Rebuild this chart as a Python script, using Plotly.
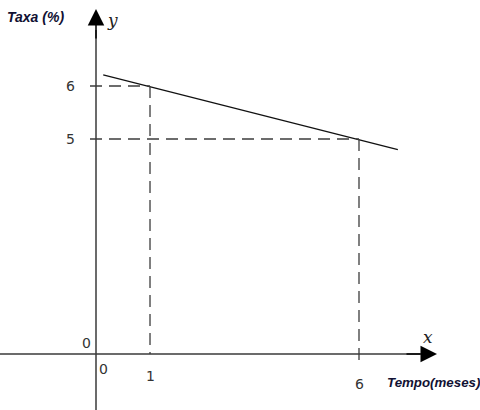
import plotly.graph_objects as go

# --- data (schematic chart) ---
months = [1, 6]            # Tempo (meses)
rates = [6, 5]             # Taxa (%)
line_x = [-0.12, 6.93]     # ends of the drawn line
line_y = [6.21, 4.80]
x_tick_vals = [1, 6]
x_tick_text = ["1", "6"]
y_tick_vals = [6, 5]
y_tick_text = ["6", "5"]

W, H = 480, 410
X_RANGE = [-2.589, 8.895]
Y_RANGE = [-0.113, 7.623]


def px(pix):
    return X_RANGE[0] + pix * (X_RANGE[1] - X_RANGE[0]) / W


def py(pix):
    return Y_RANGE[1] - pix * (Y_RANGE[1] - Y_RANGE[0]) / H


# axis cross point of the schematic drawing (not to scale)
origin_x = px(96)
origin_y = py(354)

AX_COL = "#3a3a3a"
DASH_COL = "#3c3c3c"
TXT_COL = "#333333"
DASH = dict(color=DASH_COL, width=1.3, dash="12px,7px")

fig = go.Figure()
fig.add_trace(go.Scatter(x=line_x, y=line_y, mode="lines",
                         line=dict(color="#111111", width=1.2),
                         hoverinfo="skip", showlegend=False))

shapes = []
for mx, ry in zip(months, rates):
    shapes.append(dict(type="line", xref="x", yref="y", x0=px(90), x1=mx, y0=ry, y1=ry, line=DASH))
shapes.append(dict(type="line", xref="x", yref="y", x0=months[0], x1=months[0],
                   y0=rates[0], y1=origin_y, line=DASH))
shapes.append(dict(type="line", xref="x", yref="y", x0=months[1], x1=months[1],
                   y0=rates[1], y1=py(366), line=DASH))
shapes.append(dict(type="line", xref="x", yref="y", x0=origin_x, x1=origin_x,
                   y0=py(412), y1=py(30), line=dict(color=AX_COL, width=1.5)))
shapes.append(dict(type="line", xref="x", yref="y", x0=px(-2), x1=px(420),
                   y0=origin_y, y1=origin_y, line=dict(color=AX_COL, width=1.5)))

annotations = []
annotations.append(dict(x=origin_x, y=py(9), ax=origin_x, ay=py(40), xref="x", yref="y",
                        axref="x", ayref="y", showarrow=True, arrowhead=2, arrowsize=2.2,
                        arrowwidth=1.5, arrowcolor="#000000", text=""))
annotations.append(dict(x=px(437), y=origin_y, ax=px(405), ay=origin_y, xref="x", yref="y",
                        axref="x", ayref="y", showarrow=True, arrowhead=2, arrowsize=2.2,
                        arrowwidth=1.5, arrowcolor="#000000", text=""))

tick_font = dict(family="DejaVu Sans", size=14, color=TXT_COL)
for v, t in zip(y_tick_vals, y_tick_text):
    annotations.append(dict(x=px(70), y=v, xref="x", yref="y", text=t, showarrow=False,
                            font=tick_font))
x_label_pix_y = [376, 384]
for v, t, lp in zip(x_tick_vals, x_tick_text, x_label_pix_y):
    annotations.append(dict(x=v, y=py(lp), xref="x", yref="y", text=t,
                            showarrow=False, font=tick_font))

annotations += [
    dict(x=px(86), y=py(343), xref="x", yref="y", text="0", showarrow=False, font=tick_font),
    dict(x=px(103), y=py(369), xref="x", yref="y", text="0", showarrow=False, font=tick_font),
    dict(x=px(112), y=py(20), xref="x", yref="y", text="y", showarrow=False,
         font=dict(family="DejaVu Serif", size=17, color="#222222", style="italic")),
    dict(x=px(428), y=py(337), xref="x", yref="y", text="x", showarrow=False,
         font=dict(family="DejaVu Serif", size=17, color="#222222", style="italic")),
    dict(x=px(35), y=py(17), xref="x", yref="y", text="<b><i>Taxa (%)</i></b>", showarrow=False,
         font=dict(family="Liberation Sans", size=14, color="#111133")),
    dict(x=px(434), y=py(382), xref="x", yref="y", text="<b><i>Tempo(meses)</i></b>", showarrow=False,
         font=dict(family="Liberation Sans", size=13.3, color="#111133")),
]

fig.update_layout(
    annotations=annotations, shapes=shapes,
    width=W, height=H,
    margin=dict(l=0, r=0, t=0, b=0),
    paper_bgcolor="white", plot_bgcolor="white",
    xaxis=dict(range=X_RANGE, visible=False, fixedrange=True),
    yaxis=dict(range=Y_RANGE, visible=False, fixedrange=True),
    showlegend=False,
)

fig.write_html("out.html", config={"displayModeBar": False},
               post_script="document.body.style.margin='0';")
